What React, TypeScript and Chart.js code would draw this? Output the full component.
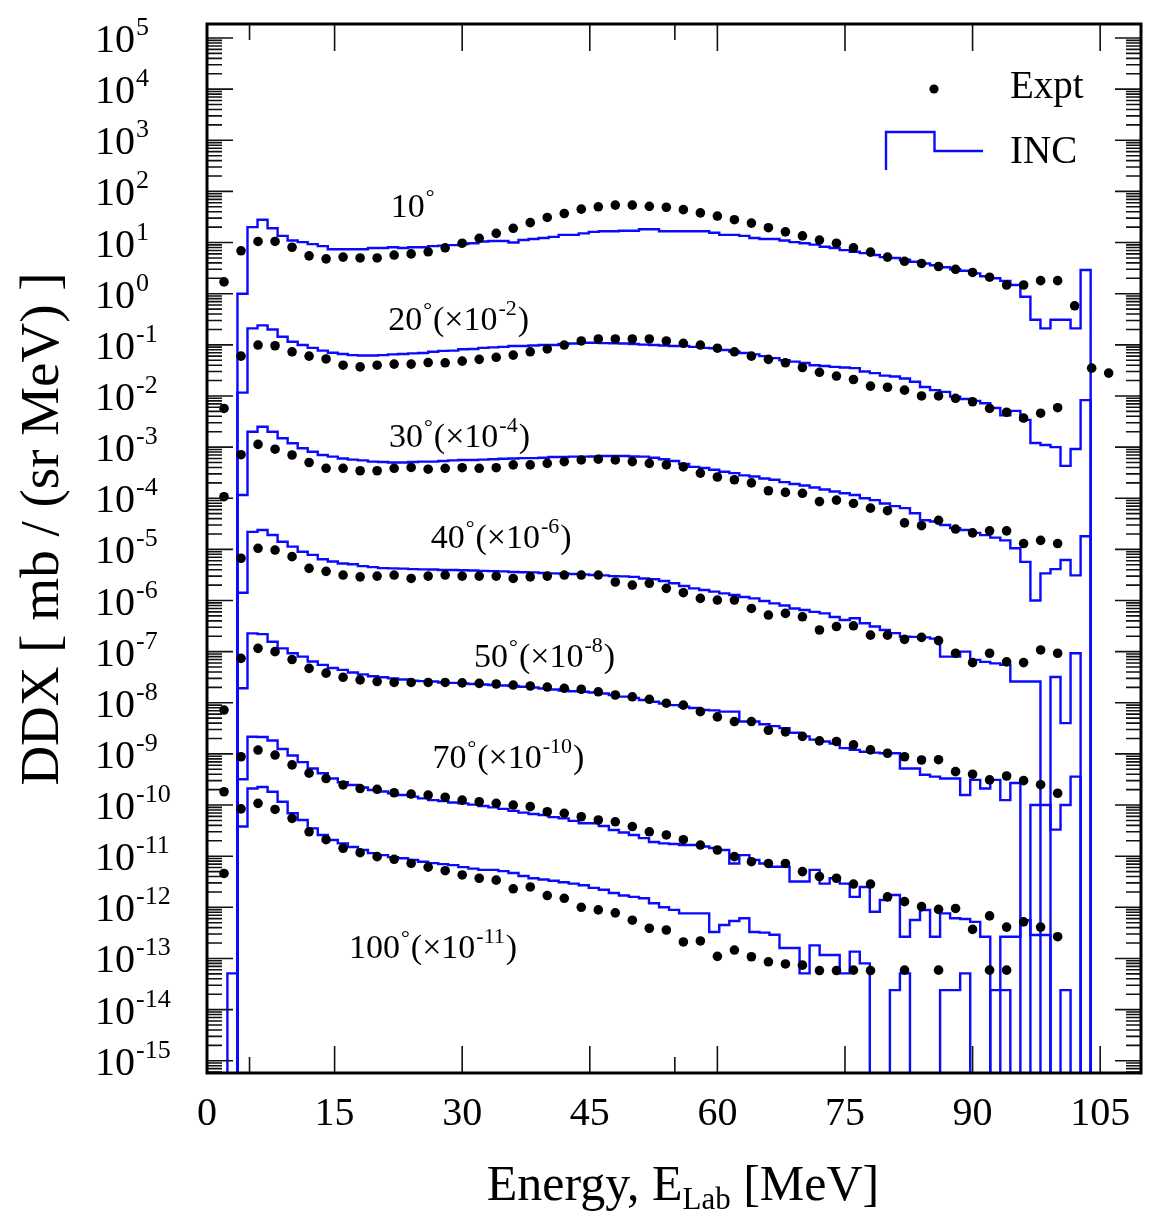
import React, { useEffect, useRef } from "react";
import { Chart, registerables } from "chart.js";

Chart.register(...registerables);

// ---------- data ----------
// angle labels and the scale factor exponents used in the plot
const angles = ["10", "20", "30", "40", "50", "70", "100"];
const scaleExponents = [0, -2, -4, -6, -8, -10, -11];

// INC histogram: bins of equal width starting at binStart (MeV)
const binStart = 2.4;
const binWidth = 1.18;

const inc10 = [0, 1.0, 20, 28, 19, 13.5, 11, 10.2, 9.3, 8.5,
  7.4, 7.4, 7.4, 7.4, 7.8, 7.8, 8.1, 7.8, 8.1, 8.1,
  8.5, 8.7, 8.9, 9.3, 9.7, 10.5, 10.7, 10.7, 10, 11.2,
  11.7, 12.3, 12.9, 14.1, 14.1, 15.1, 16.2, 16.6, 16.6, 17,
  17, 18.2, 18.2, 16.6, 16.6, 16.6, 16.6, 16.6, 15.5, 14.1,
  14.1, 13.5, 12.3, 11.7, 11.7, 11, 10.2, 9.7, 9.1, 8.3,
  7.8, 7.1, 6.6, 6.2, 5.7, 5.2, 5.0, 4.6, 4.2, 3.9,
  3.6, 3.3, 3.0, 2.8, 2.5, 2.2, 2.0, 1.78, 1.48, 0.87,
  0.31, 0.21, 0.31, 0.31, 0.21, 2.9];

const inc20 = [0, 1.16, 21, 24, 20, 14.4, 11.5, 9.9, 8.7, 7.7,
  7.0, 6.6, 6.3, 6.2, 6.2, 6.3, 6.5, 6.6, 6.8, 6.9,
  7.3, 7.6, 7.7, 8.2, 8.3, 8.7, 8.9, 9.1, 9.5, 9.5,
  9.7, 9.9, 9.9, 10.4, 10.6, 11.0, 11.0, 10.8, 10.7, 10.6,
  10.4, 10.1, 9.9, 9.7, 9.5, 9.5, 9.1, 8.7, 8.6, 7.9,
  7.4, 6.9, 6.5, 6.0, 5.5, 5.0, 4.7, 4.4, 4.0, 3.85,
  3.7, 3.6, 3.5, 3.0, 2.8, 2.5, 2.4, 2.2, 1.9, 1.5,
  1.3, 1.2, 0.97, 0.87, 0.80, 0.72, 0.58, 0.42, 0.51, 0.34,
  0.12, 0.11, 0.10, 0.043, 0.092, 0.83];

const inc30 = [0, 1.16, 20, 25, 20, 14.9, 11.9, 9.5, 8.1, 7.0,
  6.5, 6.0, 5.7, 5.5, 5.2, 5.1, 5.0, 5.0, 5.1, 5.2,
  5.2, 5.35, 5.5, 5.6, 5.6, 5.7, 5.8, 5.9, 6.0, 6.1,
  6.1, 6.2, 6.4, 6.4, 6.5, 6.5, 6.55, 6.7, 6.7, 6.7,
  6.55, 6.5, 6.2, 5.8, 5.35, 4.7, 4.1, 3.9, 3.6, 3.3,
  3.1, 2.8, 2.66, 2.43, 2.3, 2.07, 1.9, 1.77, 1.62, 1.48,
  1.35, 1.25, 1.16, 1.0, 0.92, 0.79, 0.70, 0.64, 0.51, 0.37,
  0.35, 0.30, 0.26, 0.24, 0.21, 0.19, 0.17, 0.15, 0.105, 0.057,
  0.010, 0.034, 0.041, 0.062, 0.031, 0.18];

const inc40 = [0, 1.42, 22, 23.9, 19.1, 14.1, 11.3, 9.0, 7.8, 6.4,
  5.8, 5.3, 5.1, 4.7, 4.5, 4.3, 4.25, 4.2, 4.1, 4.07,
  4.03, 3.95, 3.95, 3.9, 3.85, 3.8, 3.75, 3.72, 3.6, 3.58,
  3.55, 3.45, 3.4, 3.37, 3.3, 3.25, 3.15, 3.1, 3.0, 2.96,
  2.9, 2.7, 2.6, 2.4, 2.17, 1.92, 1.73, 1.6, 1.49, 1.38,
  1.28, 1.17, 1.10, 0.98, 0.88, 0.80, 0.70, 0.65, 0.60, 0.56,
  0.475, 0.415, 0.45, 0.36, 0.31, 0.265, 0.23, 0.196, 0.194, 0.19,
  0.18, 0.080, 0.080, 0.10, 0.069, 0.063, 0.059, 0.055, 0.026, 0.026,
  0.026, 0, 0.032, 0.004, 0.093, 0];

const inc50 = [0, 1.92, 22.8, 22, 15.6, 11.6, 9.3, 8.0, 6.4, 5.5,
  4.8, 4.4, 3.9, 3.6, 3.3, 3.15, 3.0, 2.85, 2.7, 2.65,
  2.6, 2.5, 2.45, 2.4, 2.33, 2.28, 2.22, 2.17, 2.13, 2.06,
  1.99, 1.90, 1.82, 1.74, 1.68, 1.64, 1.59, 1.52, 1.42, 1.32,
  1.24, 1.13, 1.05, 0.97, 0.90, 0.84, 0.79, 0.72, 0.71, 0.67,
  0.67, 0.43, 0.43, 0.38, 0.35, 0.32, 0.26, 0.22, 0.19, 0.175,
  0.16, 0.13, 0.12, 0.11, 0.106, 0.103, 0.103, 0.052, 0.052, 0.039,
  0.036, 0.033, 0.033, 0.0157, 0.031, 0.021, 0.031, 0.0125, 0.027, 0,
  0.010, 0.010, 0.0033, 0.010, 0.036, 0];

const inc70 = [0, 3.2, 21.7, 21.4, 18.3, 12.5, 9.3, 6.9, 5.2, 4.2,
  3.3, 2.8, 2.47, 2.2, 1.97, 1.84, 1.69, 1.57, 1.46, 1.35,
  1.25, 1.2, 1.12, 1.08, 1.02, 0.96, 0.90, 0.84, 0.77, 0.71,
  0.67, 0.64, 0.58, 0.55, 0.49, 0.44, 0.44, 0.39, 0.325, 0.29,
  0.26, 0.226, 0.19, 0.178, 0.173, 0.165, 0.165, 0.155, 0.145, 0.132,
  0.072, 0.105, 0.084, 0.072, 0.062, 0.062, 0.032, 0.032, 0.054, 0.029,
  0.037, 0.029, 0.016, 0.025, 0.0082, 0.0139, 0.0174, 0.00266, 0.00565, 0.00885,
  0.00266, 0.0076, 0.0061, 0.0059, 0.0052, 0.00266, 0, 0.00266, 0.00266, 0.0056,
  0.00287, 0.00287, 0, 0, 0, 0];

const inc100 = [0.0051, 3.8, 21, 22.5, 18.2, 11.6, 6.9, 5.1, 3.5, 2.6,
  2.07, 1.78, 1.51, 1.32, 1.15, 1.05, 0.96, 0.91, 0.84, 0.78,
  0.73, 0.70, 0.67, 0.61, 0.57, 0.54, 0.54, 0.51, 0.47, 0.41,
  0.37, 0.35, 0.33, 0.31, 0.29, 0.27, 0.24, 0.22, 0.19, 0.17,
  0.16, 0.15, 0.12, 0.10, 0.089, 0.076, 0.076, 0.076, 0.033, 0.045,
  0.054, 0.061, 0.033, 0.032, 0.029, 0.016, 0.016, 0.0051, 0.018, 0.0117,
  0.0117, 0.0051, 0.0136, 0.0080, 0, 0, 0.0024, 0.0051, 0, 0,
  0, 0.0024, 0.0024, 0.0051, 0, 0, 0.0024, 0.0024, 0, 0,
  0, 0, 0, 0.0024, 0, 0];

// Experimental points (unscaled), energies in MeV
const exptEnergy = [2, 4, 6, 8, 10, 12, 14, 16, 18, 20,
  22, 24, 26, 28, 30, 32, 34, 36, 38, 40,
  42, 44, 46, 48, 50, 52, 54, 56, 58, 60,
  62, 64, 66, 68, 70, 72, 74, 76, 78, 80,
  82, 84, 86, 88, 90, 92, 94, 96, 98, 100,
  102, 104, 106];

const expt10 = [1.7, 6.9, 10.5, 10.5, 8.1, 5.5, 4.8, 5.2, 5.0, 5.0,
  5.7, 6.0, 6.6, 7.9, 9.7, 12.1, 15.1, 19, 24.5, 31,
  37, 45, 50, 54, 54, 51, 49, 44, 38, 33,
  28, 24, 19.5, 16.2, 13.5, 11.2, 9.7, 7.9, 6.5, 5.2,
  4.3, 3.9, 3.4, 3.0, 2.6, 2.1, 1.48, 1.48, 1.8, 1.8,
  0.58, 0.035, 0.028];

const expt20 = [0.57, 6.0, 9.9, 9.6, 7.3, 6.0, 5.3, 4.0, 3.7, 4.0,
  4.2, 4.2, 4.5, 4.45, 4.8, 5.2, 5.7, 6.3, 7.3, 8.3,
  9.9, 11.9, 13, 13, 13, 13, 11.9, 10.7, 9.9, 8.6,
  7.3, 6.0, 5.2, 4.45, 3.6, 2.9, 2.45, 2.1, 1.56, 1.48,
  1.3, 1.0, 1.0, 0.90, 0.77, 0.57, 0.48, 0.37, 0.46, 0.59,
  null, null, null];

const expt30 = [1.07, 7.1, 11.3, 9.1, 7.0, 5.0, 3.85, 3.85, 3.45, 3.45,
  3.85, 4.0, 3.7, 3.85, 3.95, 3.85, 3.95, 4.5, 4.5, 4.8,
  5.2, 5.6, 5.8, 5.6, 5.2, 4.8, 4.5, 4.1, 3.1, 2.6,
  2.3, 2.0, 1.4, 1.3, 1.25, 0.86, 0.92, 0.79, 0.64, 0.57,
  0.33, 0.29, 0.37, 0.25, 0.21, 0.23, 0.23, 0.13, 0.15, 0.13,
  null, null, null];

const expt40 = [null, 6.7, 10.5, 9.7, 7.2, 4.25, 3.72, 3.15, 2.9, 3.0,
  3.15, 2.7, 3.0, 3.15, 3.0, 3.0, 3.0, 2.7, 2.9, 3.0,
  3.15, 3.15, 3.15, 2.3, 2.0, 2.17, 1.73, 1.42, 1.10, 1.02,
  1.02, 0.70, 0.52, 0.56, 0.48, 0.265, 0.31, 0.32, 0.21, 0.21,
  0.174, 0.19, 0.164, 0.093, 0.061, 0.093, 0.063, 0.061, 0.108, 0.093,
  null, null, null];

const expt50 = [0.72, 7.4, 11.6, 10.0, 7.0, 4.7, 3.8, 3.15, 2.8, 2.6,
  2.5, 2.5, 2.5, 2.5, 2.45, 2.4, 2.33, 2.22, 2.13, 2.03,
  1.92, 1.84, 1.64, 1.42, 1.31, 1.17, 0.98, 0.90, 0.67, 0.53,
  0.43, 0.43, 0.29, 0.27, 0.22, 0.18, 0.175, 0.15, 0.12, 0.103,
  0.088, 0.076, 0.077, 0.045, 0.040, 0.031, 0.037, 0.030, 0.025, 0.017,
  null, null, null];

const expt70 = [1.82, 8.8, 11.9, 9.5, 6.1, 4.2, 3.3, 2.47, 2.1, 2.03,
  1.74, 1.64, 1.57, 1.42, 1.25, 1.16, 1.08, 1.0, 0.93, 0.74,
  0.69, 0.59, 0.51, 0.47, 0.38, 0.30, 0.26, 0.21, 0.165, 0.132,
  0.098, 0.078, 0.072, 0.072, 0.050, 0.040, 0.037, 0.0285, 0.0285, 0.016,
  0.0129, 0.0103, 0.0091, 0.0095, 0.0037, 0.0068, 0.0041, 0.0052, 0.0041, 0.00266,
  null, null, null];

const expt100 = [0.46, 8.4, 10.8, 8.2, 5.5, 3.0, 2.1, 1.43, 1.17, 0.98,
  0.87, 0.72, 0.61, 0.52, 0.43, 0.37, 0.34, 0.23, 0.25, 0.17,
  0.15, 0.10, 0.089, 0.078, 0.056, 0.039, 0.036, 0.021, 0.022, 0.011,
  0.0146, 0.0108, 0.0086, 0.0078, 0.0074, 0.0058, 0.0058, 0.0059, 0.0058, null,
  0.0059, null, 0.0059, null, null, 0.0059, 0.0059, null, null, null,
  null, null, null];

// where each angle label sits (data coords: MeV, plotted DDX)
const labelE = [21.6, 21.3, 21.4, 26.3, 31.4, 26.5, 16.7];
const labelDDX = [31, 0.195, 1.0e-3, 1.05e-5, 5.1e-8, 5.2e-10, 1.0e-13];

// axis ticks
const xMajorTicks = [0, 15, 30, 45, 60, 75, 90, 105];
const xMinorTicks = [5, 55];
const yDecades = [5, 4, 3, 2, 1, 0, -1, -2, -3, -4, -5, -6, -7, -8, -9, -10, -11, -12, -13, -14, -15];

const incSeries = [inc10, inc20, inc30, inc40, inc50, inc70, inc100];
const exptSeries = [expt10, expt20, expt30, expt40, expt50, expt70, expt100];

const FONT = '"Liberation Serif", "Times New Roman", serif';
const BLUE = "#0a0aff";
const ZERO_FLOOR = 1e-30; // empty bins drawn below the log axis

function font(px: number) {
  return `${px}px ${FONT}`;
}

const decorPlugin = {
  id: "decor",
  afterDraw(chart: any) {
    const { ctx, chartArea } = chart;
    const xs = chart.scales.x;
    const ys = chart.scales.y;
    const L = chartArea.left, R = chartArea.right, T = chartArea.top, B = chartArea.bottom;
    ctx.save();
    ctx.fillStyle = "#000";
    ctx.strokeStyle = "#111";

    // ticks
    ctx.lineWidth = 1.6;
    ctx.beginPath();
    yDecades.forEach((d) => {
      const p = ys.getPixelForValue(Math.pow(10, d));
      ctx.moveTo(L, p); ctx.lineTo(L + 26, p);
      ctx.moveTo(R, p); ctx.lineTo(R - 26, p);
    });
    for (let d = -16; d <= 5; d++) {
      for (let m = 2; m <= 9; m++) {
        const v = m * Math.pow(10, d);
        if (v < ys.min || v > ys.max) continue;
        const p = ys.getPixelForValue(v);
        ctx.moveTo(L, p); ctx.lineTo(L + 15, p);
        ctx.moveTo(R, p); ctx.lineTo(R - 15, p);
      }
    }
    xMajorTicks.forEach((t) => {
      const p = xs.getPixelForValue(t);
      ctx.moveTo(p, B); ctx.lineTo(p, B - 27);
      ctx.moveTo(p, T); ctx.lineTo(p, T + 27);
    });
    xMinorTicks.forEach((t) => {
      const p = xs.getPixelForValue(t);
      ctx.moveTo(p, B); ctx.lineTo(p, B - 16);
      ctx.moveTo(p, T); ctx.lineTo(p, T + 16);
    });
    ctx.stroke();

    // frame
    ctx.lineWidth = 3;
    ctx.strokeStyle = "#000";
    ctx.strokeRect(L, T, R - L, B - T);

    // y tick labels: 10^n
    ctx.textBaseline = "alphabetic";
    ctx.textAlign = "left";
    yDecades.forEach((d) => {
      const p = ys.getPixelForValue(Math.pow(10, d));
      ctx.font = font(40);
      ctx.fillText("10", 95, p + 14);
      const w = ctx.measureText("10").width;
      ctx.font = font(26);
      ctx.fillText(String(d), 95 + w + 1, p - 3);
    });

    // x tick labels
    ctx.font = font(40);
    ctx.textAlign = "center";
    xMajorTicks.forEach((t) => {
      ctx.fillText(String(t), xs.getPixelForValue(t), B + 52);
    });

    // x title: Energy, E_Lab [MeV]
    {
      const big = 50, small = 31;
      ctx.font = font(big);
      const a = "Energy, E";
      const c = " [MeV]";
      const wa = ctx.measureText(a).width;
      const wc = ctx.measureText(c).width;
      ctx.font = font(small);
      const wb = ctx.measureText("Lab").width;
      const total = wa + wb + wc;
      let x = 683 - total / 2;
      const y = B + 127;
      ctx.textAlign = "left";
      ctx.font = font(big);
      ctx.fillText(a, x, y);
      x += wa;
      ctx.font = font(small);
      ctx.fillText("Lab", x, y + 9);
      x += wb;
      ctx.font = font(big);
      ctx.fillText(c, x, y);
    }

    // y title
    ctx.save();
    ctx.translate(58, 529);
    ctx.rotate(-Math.PI / 2);
    ctx.font = font(55);
    ctx.textAlign = "center";
    ctx.fillText("DDX [ mb / (sr MeV) ]", 0, 0);
    ctx.restore();

    // angle labels
    ctx.textAlign = "left";
    angles.forEach((ang, i) => {
      let x = xs.getPixelForValue(labelE[i]);
      const y = ys.getPixelForValue(labelDDX[i]);
      ctx.font = font(34);
      ctx.fillText(ang, x, y);
      x += ctx.measureText(ang).width;
      ctx.font = font(22);
      ctx.fillText("°", x + 1, y - 13);
      x += ctx.measureText("°").width + 2;
      const e = scaleExponents[i];
      if (e !== 0) {
        ctx.font = font(34);
        ctx.fillText("(×10", x, y);
        x += ctx.measureText("(×10").width;
        ctx.font = font(22);
        ctx.fillText(String(e), x + 1, y - 15);
        x += ctx.measureText(String(e)).width + 2;
        ctx.font = font(34);
        ctx.fillText(")", x, y);
      }
    });

    // legend
    ctx.fillStyle = "#000";
    ctx.beginPath();
    ctx.arc(R - 207, T + 65, 4.6, 0, Math.PI * 2);
    ctx.fill();
    ctx.font = font(39);
    ctx.fillText("Expt", R - 131, T + 74);
    ctx.strokeStyle = BLUE;
    ctx.lineWidth = 2.4;
    ctx.beginPath();
    ctx.moveTo(R - 255, T + 146);
    ctx.lineTo(R - 255, T + 108);
    ctx.lineTo(R - 206.5, T + 108);
    ctx.lineTo(R - 206.5, T + 127);
    ctx.lineTo(R - 158, T + 127);
    ctx.stroke();
    ctx.fillText("INC", R - 131, T + 139);

    ctx.restore();
  },
};

export default function App() {
  const ref = useRef<HTMLCanvasElement | null>(null);

  useEffect(() => {
    if (!ref.current) return;
    const datasets: any[] = [];
    incSeries.forEach((bins, i) => {
      const f = Math.pow(10, scaleExponents[i]);
      const pts: { x: number; y: number }[] = [{ x: binStart, y: ZERO_FLOOR }];
      bins.forEach((v, k) => {
        pts.push({ x: binStart + k * binWidth, y: v > 0 ? v * f : ZERO_FLOOR });
      });
      pts.push({ x: binStart + bins.length * binWidth, y: ZERO_FLOOR });
      datasets.push({
        type: "line",
        label: `INC ${angles[i]}`,
        data: pts,
        stepped: "before",
        borderColor: BLUE,
        borderWidth: 2.4,
        pointRadius: 0,
        fill: false,
        order: 2,
      });
    });
    exptSeries.forEach((vals, i) => {
      const f = Math.pow(10, scaleExponents[i]);
      const pts: { x: number; y: number }[] = [];
      vals.forEach((v, j) => {
        if (v !== null && v !== undefined) pts.push({ x: exptEnergy[j], y: (v as number) * f });
      });
      datasets.push({
        type: "line",
        label: `Expt ${angles[i]}`,
        data: pts,
        showLine: false,
        pointRadius: 4.8,
        pointBackgroundColor: "#000",
        pointBorderWidth: 0,
        borderColor: "#000",
        order: 1,
      });
    });

    const chart = new Chart(ref.current, {
      type: "line",
      data: { datasets },
      options: {
        animation: false,
        responsive: true,
        maintainAspectRatio: false,
        events: [],
        layout: { padding: { left: 207, right: 15, top: 24, bottom: 140 } },
        plugins: { legend: { display: false }, tooltip: { enabled: false } },
        scales: {
          x: { type: "linear", min: 0, max: 109.8, display: false },
          y: { type: "logarithmic", min: Math.pow(10, -15.24), max: Math.pow(10, 5.274), display: false },
        },
      },
      plugins: [decorPlugin],
    } as any);
    return () => chart.destroy();
  }, []);

  return (
    <div style={{ position: "absolute", left: 0, top: 0, width: 1156, height: 1213, background: "#fff" }}>
      <canvas ref={ref} />
    </div>
  );
}
